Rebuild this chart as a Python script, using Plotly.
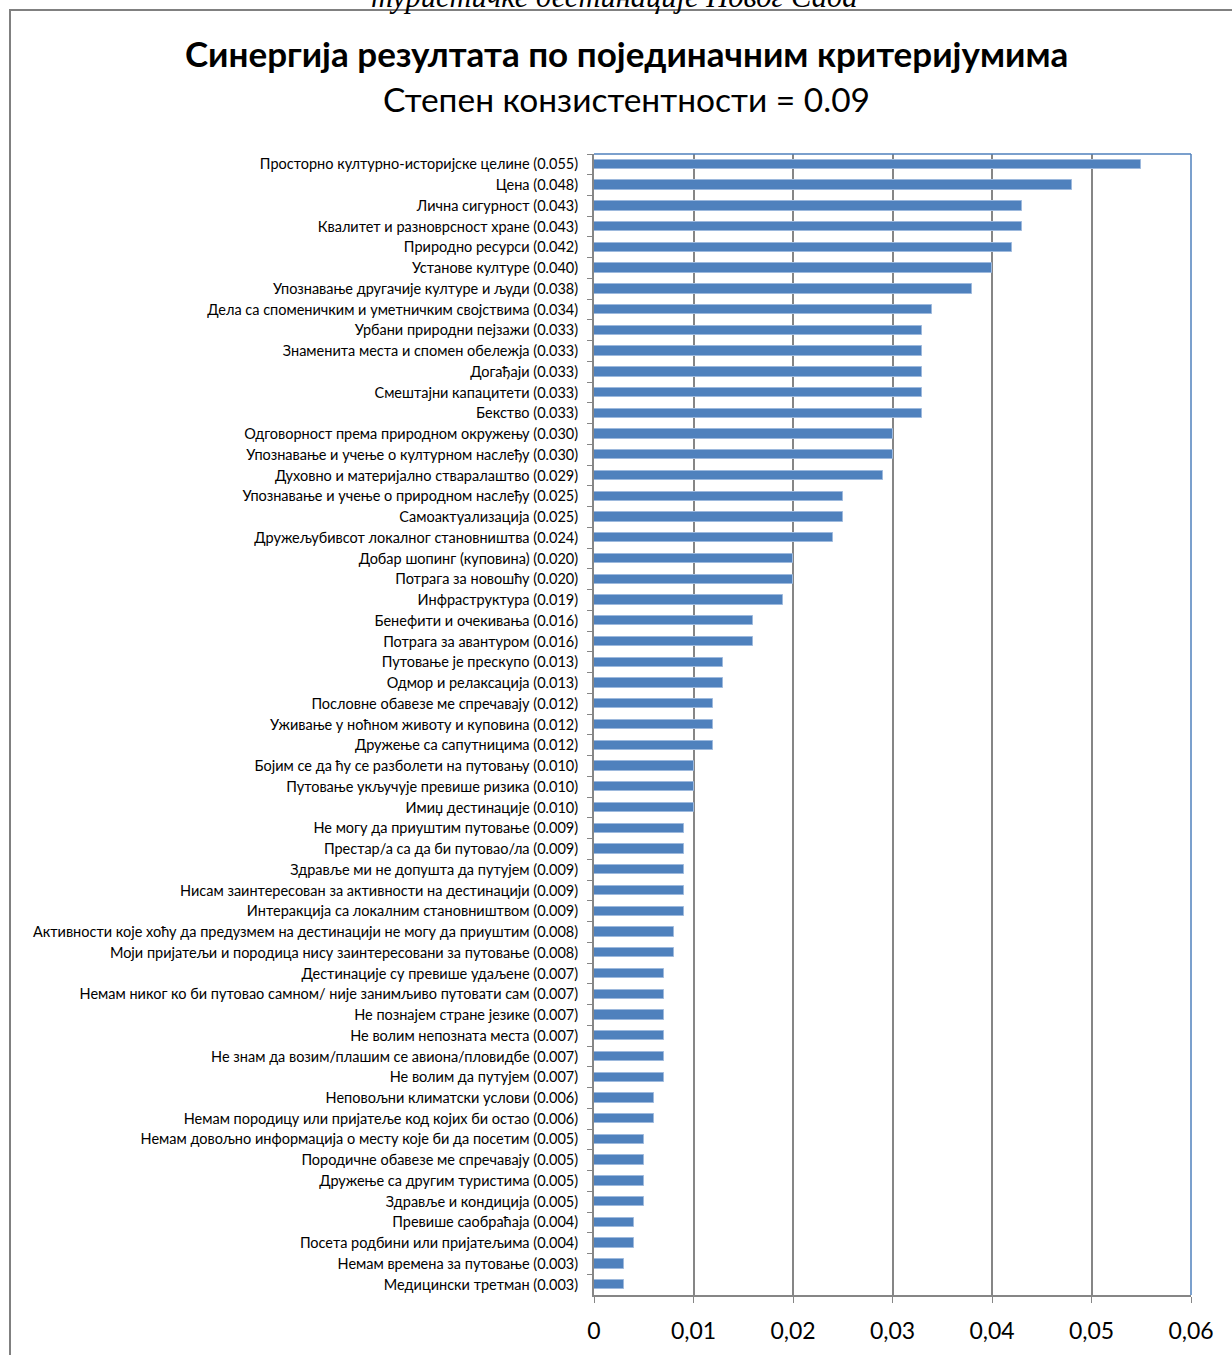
import plotly.graph_objects as go

categories = [
    "Просторно културно-историјске целине",
    "Цена",
    "Лична сигурност",
    "Квалитет и разноврсност хране",
    "Природно ресурси",
    "Установе културе",
    "Упознавање другачије културе и људи",
    "Дела са споменичким и уметничким својствима",
    "Урбани природни пејзажи",
    "Знаменита места и спомен обележја",
    "Догађаји",
    "Смештајни капацитети",
    "Бекство",
    "Одговорност према природном окружењу",
    "Упознавање и учење о културном наслеђу",
    "Духовно и материјално стваралаштво",
    "Упознавање и учење о природном наслеђу",
    "Самоактуализација",
    "Дружељубивсот локалног становништва",
    "Добар шопинг (куповина)",
    "Потрага за новошћу",
    "Инфраструктура",
    "Бенефити и очекивања",
    "Потрага за авантуром",
    "Путовање је прескупо",
    "Одмор и релаксација",
    "Пословне обавезе ме спречавају",
    "Уживање у ноћном животу и куповина",
    "Дружење са сапутницима",
    "Бојим се да ћу се разболети на путовању",
    "Путовање укључује превише ризика",
    "Имиџ дестинације",
    "Не могу да приуштим путовање",
    "Престар/а са да би путовао/ла",
    "Здравље ми не допушта да путујем",
    "Нисам заинтересован за активности на дестинацији",
    "Интеракција са локалним становништвом",
    "Активности које хоћу да предузмем на дестинацији не могу да приуштим",
    "Моји пријатељи и породица нису заинтересовани за путовање",
    "Дестинације су превише удаљене",
    "Немам никог ко би путовао самном/ није занимљиво путовати сам",
    "Не познајем стране језике",
    "Не волим непозната места",
    "Не знам да возим/плашим се авиона/пловидбе",
    "Не волим да путујем",
    "Неповољни климатски услови",
    "Немам породицу или пријатеље код којих би остао",
    "Немам довољно информација о месту које би да посетим",
    "Породичне обавезе ме спречавају",
    "Дружење са другим туристима",
    "Здравље и кондиција",
    "Превише саобраћаја",
    "Посета родбини или пријатељима",
    "Немам времена за путовање",
    "Медицински третман",
]

values = [
    0.055, 0.048, 0.043, 0.043, 0.042, 0.040, 0.038, 0.034, 0.033, 0.033,
    0.033, 0.033, 0.033, 0.030, 0.030, 0.029, 0.025, 0.025, 0.024, 0.020,
    0.020, 0.019, 0.016, 0.016, 0.013, 0.013, 0.012, 0.012, 0.012, 0.010,
    0.010, 0.010, 0.009, 0.009, 0.009, 0.009, 0.009, 0.008, 0.008, 0.007,
    0.007, 0.007, 0.007, 0.007, 0.007, 0.006, 0.006, 0.005, 0.005, 0.005,
    0.005, 0.004, 0.004, 0.003, 0.003,
]

xtick_vals = [0, 0.01, 0.02, 0.03, 0.04, 0.05, 0.06]
xtick_text = ["0", "0,01", "0,02", "0,03", "0,04", "0,05", "0,06"]

title_text = "Синергија резултата по појединачним критеријумима"
subtitle_text = "Степен конзистентности = 0.09"
top_cut_text = "туристичке дестинације Новог Сада"

labels = [f"{c} ({v:.3f})" for c, v in zip(categories, values)]

W, H = 1232, 1355
L, R, T, B = 594, 1191, 154, 1295  # plot area in pixels


def px(x):
    return (x - L) / (R - L)


def py(y):
    return (B - y) / (B - T)


BLUE = "#4F81BD"
GRAY = "#868686"
FONT = "Lato"

fig = go.Figure(
    go.Bar(
        x=values,
        y=labels,
        orientation="h",
        width=0.45,
        marker=dict(color=BLUE, line=dict(color="#9DB9DD", width=1)),
        hoverinfo="x+y",
    )
)

fig.update_layout(
    width=W,
    height=H,
    margin=dict(l=L, r=W - R, t=T, b=H - B, pad=0, autoexpand=False),
    paper_bgcolor="white",
    plot_bgcolor="white",
    showlegend=False,
    bargap=0,
    font=dict(family=FONT, color="black"),
    xaxis=dict(
        range=[0, 0.06],
        tickvals=xtick_vals,
        ticktext=xtick_text,
        showgrid=True,
        gridcolor=GRAY,
        gridwidth=1.5,
        zeroline=False,
        showline=True,
        linecolor=GRAY,
        linewidth=2,
        ticks="outside",
        ticklen=6,
        tickcolor=GRAY,
        tickfont=dict(size=23, family=FONT),
        ticklabelstandoff=8,
        automargin=False,
    ),
    yaxis=dict(
        autorange="reversed",
        type="category",
        showgrid=False,
        zeroline=False,
        showline=True,
        linecolor=GRAY,
        linewidth=2,
        ticks="outside",
        tickson="boundaries",
        ticklen=5,
        tickcolor=GRAY,
        tickfont=dict(size=14.5, family=FONT),
        ticklabelstandoff=11,
        automargin=False,
    ),
    shapes=[
        # outer chart frame
        dict(type="rect", xref="paper", yref="paper",
             x0=px(10), x1=px(1245), y0=py(1370), y1=py(10),
             line=dict(color="#808080", width=2), fillcolor="rgba(0,0,0,0)",
             layer="below"),
        # blue top & right edges of plot area
        dict(type="line", xref="paper", yref="paper",
             x0=0, x1=1, y0=1, y1=1, line=dict(color=BLUE, width=1.5)),
        dict(type="line", xref="paper", yref="paper",
             x0=1, x1=1, y0=0, y1=1, line=dict(color=BLUE, width=1.5)),
    ],
    annotations=[
        dict(text=f"<b>{title_text}</b>", xref="paper", yref="paper",
             x=px(626), y=py(53), xanchor="center", yanchor="middle",
             showarrow=False, font=dict(size=35, family=FONT, color="black")),
        dict(text=subtitle_text, xref="paper", yref="paper",
             x=px(626), y=py(99), xanchor="center", yanchor="middle",
             showarrow=False, font=dict(size=33.5, family=FONT, color="black")),
        dict(text=f"<i>{top_cut_text}</i>", xref="paper", yref="paper",
             x=px(614), y=py(16), xanchor="center", yanchor="bottom",
             showarrow=False,
             font=dict(size=30.5, family="Liberation Serif", color="black")),
    ],
)

fig.write_html(
    "out.html",
    config={"displayModeBar": False},
    post_script="document.body.style.margin='0';document.body.style.overflow='hidden';",
)
